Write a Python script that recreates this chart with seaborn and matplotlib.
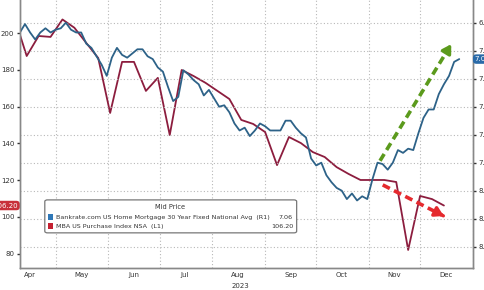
import matplotlib
matplotlib.use("Agg")
import matplotlib.pyplot as plt
import matplotlib.dates as mdates
from matplotlib.patches import FancyBboxPatch, Rectangle
import numpy as np
import pandas as pd
import seaborn as sns

# ---------------- data ----------------
mba_dates = pd.date_range("2023-04-07", "2023-12-15", freq="W-FRI")
mba_values = [208, 187.6, 198.5, 198, 207.5, 203, 194.7, 186.5, 156.6, 184.4,
              184.4, 168.6, 175.7, 144.6, 180, 176.7, 173, 168.6, 164.2, 152.8,
              150.6, 146.2, 128.2, 143.5, 140.2, 135.3, 132.6, 127.1, 123.4, 120.1,
              120.1, 120.1, 119, 82, 111.4, 109.7, 106.2]

rate_values = [6.87, 6.81, 6.87, 6.92, 6.87, 6.84, 6.87, 6.85, 6.84, 6.80,
               6.85, 6.87, 6.87, 6.95, 6.98, 7.04, 7.10, 7.18, 7.05, 6.98,
               7.03, 7.05, 7.02, 6.99, 6.99, 7.04, 7.06, 7.12, 7.15, 7.26,
               7.36, 7.33, 7.14, 7.17, 7.21, 7.24, 7.32, 7.28, 7.34, 7.40,
               7.39, 7.44, 7.52, 7.57, 7.55, 7.61, 7.57, 7.52, 7.54, 7.57,
               7.57, 7.57, 7.50, 7.50, 7.55, 7.59, 7.62, 7.77, 7.82, 7.80,
               7.89, 7.94, 7.98, 8.00, 8.06, 8.02, 8.07, 8.04, 8.06, 7.92,
               7.80, 7.81, 7.85, 7.80, 7.71, 7.73, 7.70, 7.71, 7.59, 7.48,
               7.42, 7.42, 7.31, 7.24, 7.18, 7.08, 7.06]
rate_dates = pd.date_range("2023-04-10", periods=len(rate_values), freq="3D")

left_ticks = [80, 100, 120, 140, 160, 180, 200]
right_ticks = [6.8, 7.0, 7.2, 7.4, 7.6, 7.8, 8.0, 8.2, 8.4]
series_names = ["Bankrate.com US Home Mortgage 30 Year Fixed National Avg  (R1)",
                "MBA US Purchase Index NSA  (L1)"]
last_values = ["7.06", "106.20"]

mba = pd.DataFrame({"date": mba_dates, "value": mba_values})
rate = pd.DataFrame({"date": rate_dates, "value": rate_values})

# ---------------- style ----------------
sns.set_style("white")
plt.rcParams["font.family"] = ["DejaVu Sans"]

BLUE = "#2d6288"
RED = "#8c1d3e"
GRID = "#b8b8b8"
TXT = "#333333"

fig = plt.figure(figsize=(4.85, 2.9), dpi=100)
ax = fig.add_axes([0.041, 0.076, 0.934, 0.924])
ax2 = ax.twinx()

sns.lineplot(data=mba, x="date", y="value", ax=ax, color=RED, linewidth=1.3)
sns.lineplot(data=rate, x="date", y="value", ax=ax2, color=BLUE, linewidth=1.3)

ax.set_xlim(pd.Timestamp("2023-04-10"), pd.Timestamp("2024-01-01"))
ax.set_ylim(72.2, 218.1)
ax2.set_ylim(8.552, 6.638)

ax.set_yticks(left_ticks)
ax.set_yticklabels([str(t) for t in left_ticks])
ax2.set_yticks(right_ticks)
ax2.set_yticklabels([f"{t:.1f}" for t in right_ticks])

ax.xaxis.set_major_locator(mdates.MonthLocator())
ax.xaxis.set_major_formatter(plt.NullFormatter())
ax.xaxis.set_minor_locator(mdates.MonthLocator(bymonthday=16))
ax.xaxis.set_minor_formatter(mdates.DateFormatter("%b"))
ax.tick_params(axis="x", which="minor", length=0, labelsize=5, colors=TXT, pad=3)
ax.tick_params(axis="x", which="major", length=2, color="#777777")
ax.tick_params(axis="y", length=2.5, width=1, labelsize=5, colors=TXT, pad=1.5)
ax2.tick_params(axis="y", length=2.5, width=1, labelsize=5, colors=TXT, pad=1.5)

ax.set_xlabel("")
ax.set_ylabel("")
ax2.set_xlabel("")
ax2.set_ylabel("")

ax.grid(False)
ax2.grid(False)
ax.xaxis.grid(True, which="major", linestyle=(0, (1, 2)), color=GRID, linewidth=0.8)
ax2.yaxis.grid(True, linestyle=(0, (1, 2)), color=GRID, linewidth=0.8)

for a in (ax, ax2):
    a.spines["top"].set_visible(False)
    for s in ("left", "right", "bottom"):
        a.spines[s].set_color("#888888")
        a.spines[s].set_linewidth(1.0)

ax.text(0.486, -0.068, "2023", transform=ax.transAxes, ha="center", va="center",
        fontsize=5, color=TXT)

# last value labels
ax.text(-0.004, float(last_values[1]), last_values[1], transform=ax.get_yaxis_transform(),
        ha="right", va="center", fontsize=5, color="white", clip_on=False,
        bbox=dict(boxstyle="round,pad=0.25,rounding_size=0.5", fc="#c8303a", ec="none"))
ax2.text(1.004, float(last_values[0]), last_values[0], transform=ax2.get_yaxis_transform(),
         ha="left", va="center", fontsize=5, color="white", clip_on=False,
         bbox=dict(boxstyle="round,pad=0.25,rounding_size=0.5", fc="#2a6aa8", ec="none"))

# arrows (annotation)
for (x0, y0, x1, y1, col) in [(0.795, 0.40, 0.945, 0.815, "#5b9a1c"),
                              (0.801, 0.31, 0.932, 0.197, "#e52a2e")]:
    ax2.plot([x0, x1], [y0, y1], transform=ax2.transAxes, color=col,
             linewidth=2.6, linestyle=(0, (2.2, 1.3)), solid_capstyle="butt", zorder=6)
    dx, dy = x1 - x0, y1 - y0
    ax2.annotate("", xy=(x1 + dx * 0.07, y1 + dy * 0.07), xytext=(x1 - dx * 0.02, y1 - dy * 0.02),
                 xycoords="axes fraction", textcoords="axes fraction",
                 arrowprops=dict(arrowstyle="-|>,head_length=0.5,head_width=0.3",
                                 color=col, lw=2.4), zorder=7)

# custom legend
box = FancyBboxPatch((0.055, 0.131), 0.556, 0.123, transform=ax2.transAxes,
                     boxstyle="round,pad=0,rounding_size=0.006", fc="white",
                     ec="#777777", lw=0.9, zorder=8)
ax2.add_patch(box)
ax2.text(0.331, 0.226, "Mid Price", transform=ax2.transAxes, ha="center", va="center",
         fontsize=4.8, color=TXT, zorder=9)
for i, (name, val, col) in enumerate(zip(series_names, last_values, ["#2f78b8", "#c42030"])):
    yy = 0.190 - i * 0.034
    ax2.add_patch(Rectangle((0.062, yy - 0.012), 0.011, 0.024, transform=ax2.transAxes,
                            fc=col, ec="none", zorder=9))
    ax2.text(0.080, yy, name, transform=ax2.transAxes, ha="left", va="center",
             fontsize=4.6, color=TXT, zorder=9)
    ax2.text(0.603, yy, val, transform=ax2.transAxes, ha="right", va="center",
             fontsize=4.6, color=TXT, zorder=9)

fig.savefig("out.png", dpi=100)
